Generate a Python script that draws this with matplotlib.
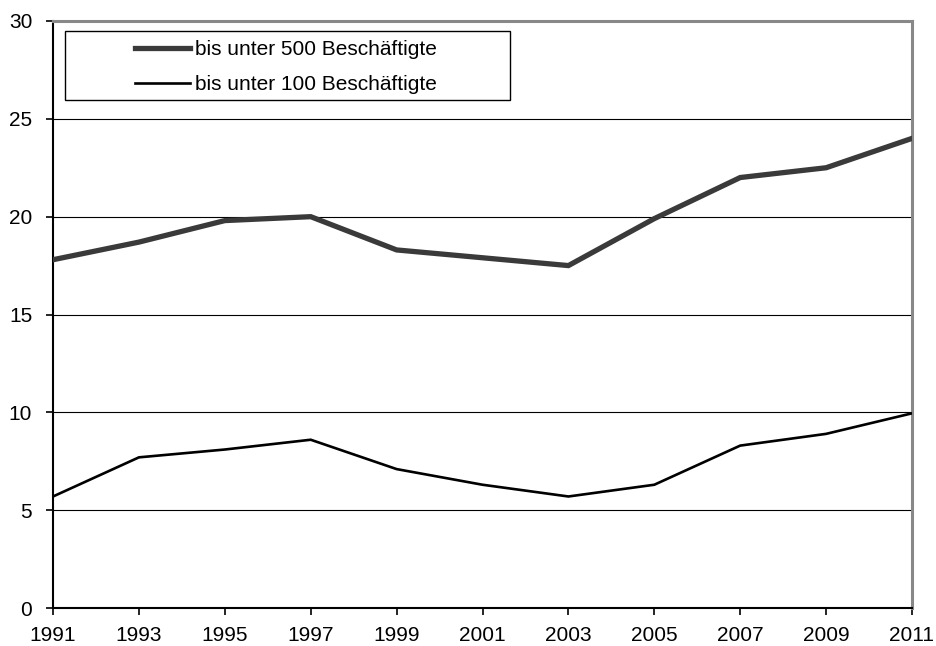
import matplotlib
matplotlib.use("Agg")
import matplotlib.pyplot as plt
from matplotlib.patches import Rectangle

plt.rcParams['font.family'] = ['Liberation Sans', 'DejaVu Sans']

# Daten
jahre = [1991, 1993, 1995, 1997, 1999, 2001, 2003, 2005, 2007, 2009, 2011]
bis_500 = [17.8, 18.7, 19.8, 20.0, 18.3, 17.9, 17.5, 19.9, 22.0, 22.5, 24.0]
bis_100 = [5.7, 7.7, 8.1, 8.6, 7.1, 6.3, 5.7, 6.3, 8.3, 8.9, 9.95]
label_500 = "bis unter 500 Beschäftigte"
label_100 = "bis unter 100 Beschäftigte"
y_ticks = [0, 5, 10, 15, 20, 25, 30]

fig = plt.figure(figsize=(9.37, 6.46), dpi=100)
ax = fig.add_axes([0.0566, 0.0588, 0.9167, 0.9087])

# Gitternetz
for y in y_ticks[1:-1]:
    ax.axhline(y, color='black', lw=0.8, zorder=1)

ax.plot(jahre, bis_500, color='#3a3a3a', lw=3.8, label=label_500,
        solid_joinstyle='miter', zorder=3)
ax.plot(jahre, bis_100, color='black', lw=1.9, label=label_100,
        solid_joinstyle='miter', zorder=3)

ax.set_xlim(1991, 2011)
ax.set_ylim(0, 30)
ax.set_xticks(jahre)
ax.set_yticks(y_ticks)
ax.tick_params(axis='both', direction='out', length=5, width=1.2,
               labelsize=15, colors='black')
ax.tick_params(axis='x', pad=8)
ax.tick_params(axis='y', pad=10)

ax.spines['left'].set_color('black')
ax.spines['left'].set_linewidth(1.5)
ax.spines['bottom'].set_color('black')
ax.spines['bottom'].set_linewidth(1.5)
ax.spines['top'].set_color('#888888')
ax.spines['top'].set_linewidth(2.2)
ax.spines['right'].set_color('#888888')
ax.spines['right'].set_linewidth(2.2)

# Legendenrahmen
ax.add_patch(Rectangle((0.014, 0.866), 0.518, 0.117, transform=ax.transAxes,
                       facecolor='white', edgecolor='black', lw=1.0, zorder=4))
leg = ax.legend(loc='upper left', bbox_to_anchor=(0.0955, 0.967), frameon=False,
                fontsize=15, handlelength=2.65, handletextpad=0.25,
                labelspacing=0.75, borderpad=0, borderaxespad=0)
leg.set_zorder(5)

fig.savefig("out.png", dpi=100)
